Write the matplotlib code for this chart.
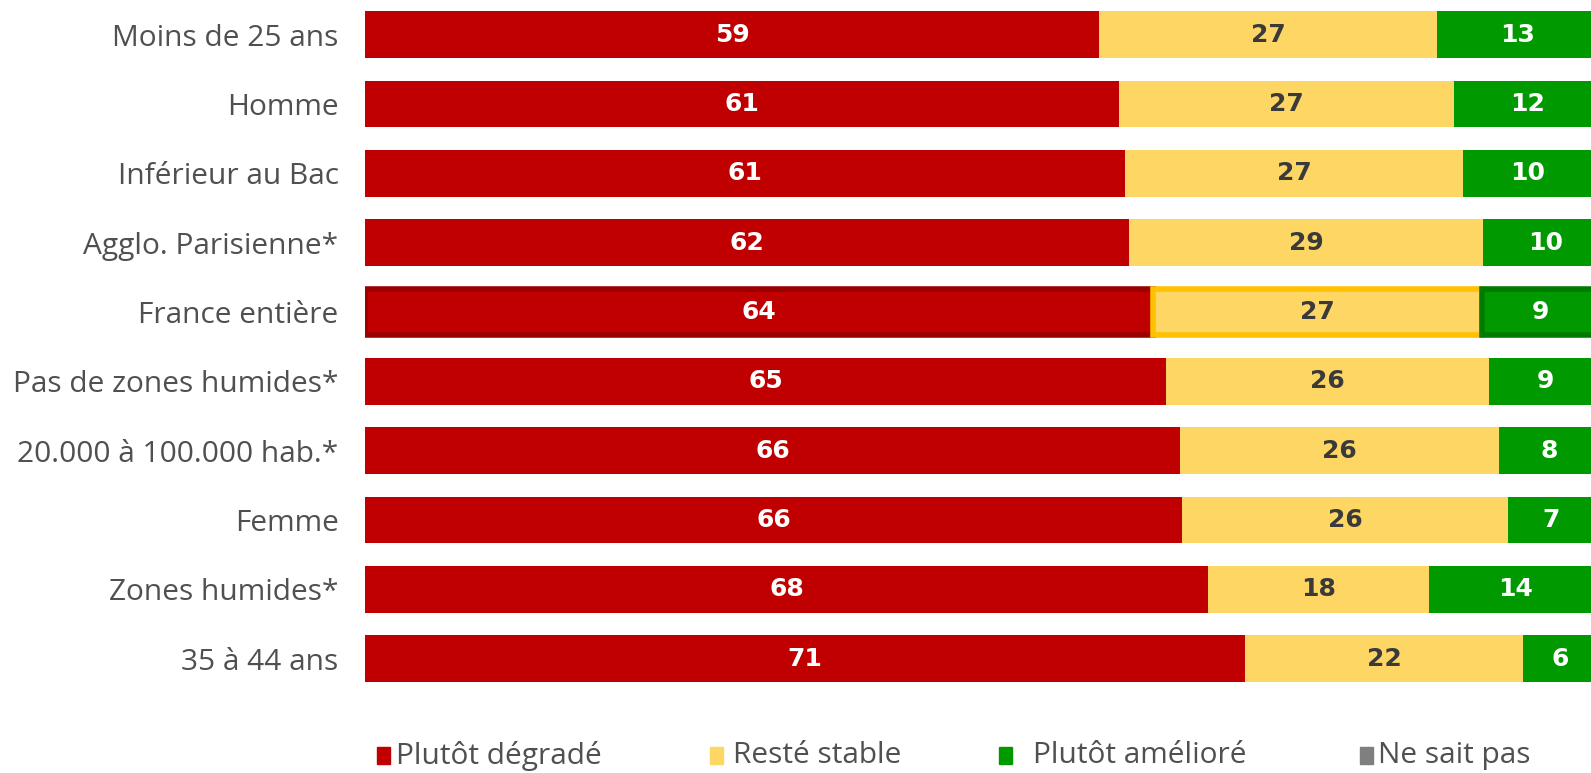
import matplotlib
matplotlib.use("Agg")
import matplotlib.pyplot as plt
from matplotlib.patches import Rectangle
import numpy as np

categories = ["Moins de 25 ans", "Homme", "Inférieur au Bac", "Agglo. Parisienne*",
              "France entière", "Pas de zones humides*", "20.000 à 100.000 hab.*",
              "Femme", "Zones humides*", "35 à 44 ans"]
degrade = [59.3, 60.9, 61.4, 61.7, 63.6, 64.7, 65.8, 66.0, 68.1, 71.1]
stable = [27.3, 27.0, 27.3, 28.6, 26.6, 26.1, 25.8, 26.3, 17.8, 22.4]
ameliore = [13, 12, 10.4, 10, 9.4, 9, 8, 7, 14, 6]
ne_sait_pas = [1, 1, 1, 1, 1, 1, 1, 1, 1, 1]
series_names = ["Plutôt dégradé", "Resté stable", "Plutôt amélioré", "Ne sait pas"]

colors = ["#C00000", "#FDD663", "#009A00", "#7F7F7F"]
edge_hi = ["#9A0000", "#FFC000", "#007A00", "#606060"]
text_colors = ["white", "#3A3A3A", "white", "white"]
highlight = "France entière"

fig = plt.figure(figsize=(15.91, 7.73), dpi=100)
ax = fig.add_axes([0.2294, 0.1032, 0.7706, 0.8968])

y = np.arange(len(categories))
left = np.zeros(len(categories))
for k, vals in enumerate([degrade, stable, ameliore, ne_sait_pas]):
    vals = np.array(vals, dtype=float)
    ec = [edge_hi[k] if c == highlight else "none" for c in categories]
    lw = [4.0 if c == highlight else 0 for c in categories]
    ax.barh(y, vals, left=left, height=0.675, color=colors[k],
            edgecolor=ec, linewidth=lw)
    if k < 3:
        for i, v in enumerate(vals):
            bold = categories[i] == highlight
            ax.text(left[i] + v / 2, y[i], f"{round(v)}", ha="center", va="center",
                    color=text_colors[k], fontsize=18,
                    fontweight="bold" if bold else "semibold",
                    family="DejaVu Sans")
    left += vals

ax.set_xlim(0, 99.0)
ax.set_ylim(9.5, -0.5)
ax.set_yticks(y)
ax.set_yticklabels(categories, family="Open Sans", fontsize=21.5, color="#505050")
ax.tick_params(axis="y", length=0, pad=19)
ax.set_xticks([])
for s in ax.spines.values():
    s.set_visible(False)

# legend drawn by hand, Excel-like spacing
W, H = 1591, 773
sq_x = [377, 710, 999, 1360]
txt_x = [396, 733, 1033, 1378]
for k in range(4):
    fig.add_artist(Rectangle((sq_x[k] / W, 0.022 - 8.5 / H), 13 / W, 17 / H,
                             transform=fig.transFigure, color=colors[k]))
    fig.text(txt_x[k] / W, 0.022, series_names[k], ha="left", va="center",
             family="Open Sans", fontsize=21.5, color="#505050")

fig.savefig("out.png", dpi=100)
